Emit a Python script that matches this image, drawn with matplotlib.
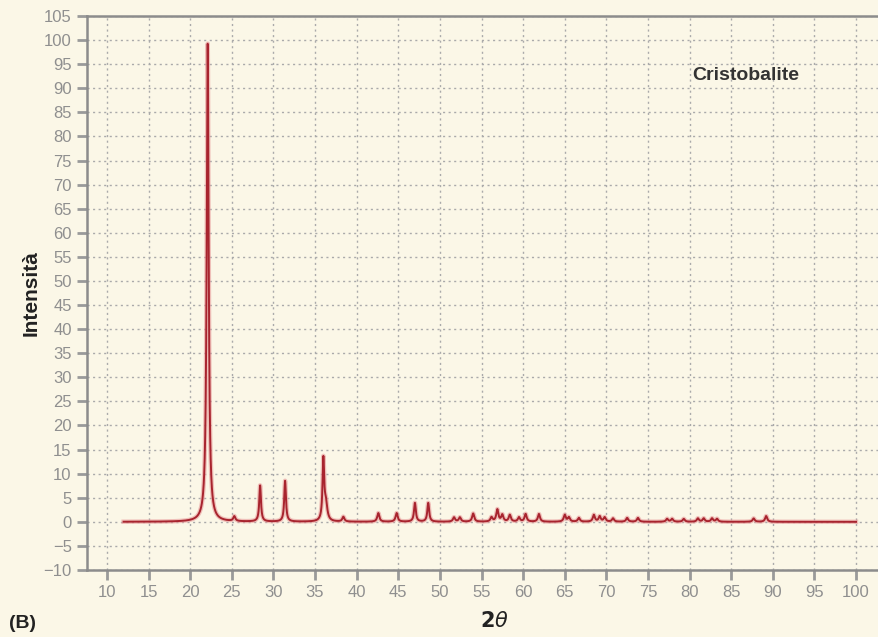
import numpy as np
import matplotlib
matplotlib.use("Agg")
import matplotlib.pyplot as plt

plt.rcParams['font.family'] = ['Liberation Sans', 'DejaVu Sans']

# peak list: position (2theta), height, half width
peak_pos = [22.1, 25.3, 28.4, 31.4, 36.0, 36.3, 38.4, 42.6, 44.8, 47.0, 48.6,
            51.7, 52.4, 54.0, 56.2, 56.9, 57.5, 58.4, 59.5, 60.3, 61.9,
            65.0, 65.5, 66.7, 68.5, 69.2, 69.8, 70.8, 72.5, 73.8,
            77.3, 77.9, 79.3, 81.0, 81.7, 82.7, 83.3, 87.7, 89.2]
peak_h = [99.5, 1.0, 7.5, 8.5, 12.6, 3.5, 1.0, 1.8, 1.8, 3.9, 3.9,
          0.9, 0.9, 1.7, 0.9, 2.5, 1.4, 1.4, 0.9, 1.6, 1.6,
          1.4, 0.9, 0.8, 1.4, 1.1, 0.9, 0.7, 0.8, 0.8,
          0.6, 0.6, 0.6, 0.7, 0.7, 0.7, 0.6, 0.7, 1.2]
peak_w = [0.14, 0.15, 0.12, 0.12, 0.12, 0.2, 0.15, 0.15, 0.15, 0.13, 0.13,
          0.15, 0.15, 0.15, 0.15, 0.15, 0.15, 0.15, 0.15, 0.15, 0.15,
          0.15, 0.15, 0.15, 0.15, 0.15, 0.15, 0.15, 0.15, 0.15,
          0.15, 0.15, 0.15, 0.15, 0.15, 0.15, 0.15, 0.15, 0.15]
x_start, x_end = 12, 100

xticks = list(range(10, 101, 5))
yticks = list(range(-10, 106, 5))

bg = '#fbf7e7'
tick_col = '#9a9a9a'

x = np.linspace(x_start, x_end, 6000)
y = np.zeros_like(x)
for p, h, w in zip(peak_pos, peak_h, peak_w):
    y += h * w**2 / ((x - p)**2 + w**2)

fig = plt.figure(figsize=(8.79, 6.37), dpi=100, facecolor=bg)
ax = fig.add_axes([87/879, 1 - 570/637, (879 - 87)/879, (570 - 16)/637])
ax.set_facecolor(bg)

ax.plot(x, y, color='#e89a9a', lw=3.2, alpha=0.6, solid_joinstyle='round')
ax.plot(x, y, color='#a8242e', lw=1.4)

ax.set_xlim(7.6, 102.76)
ax.set_ylim(-10, 105)
ax.set_xticks(xticks)
ax.set_yticks(yticks)
ax.grid(True, color='#aaaaaa', linestyle=(0, (1.5, 2.5)), lw=1.0)
ax.set_axisbelow(True)

for s in ['left', 'bottom', 'top']:
    ax.spines[s].set_color('#8c8c8c')
    ax.spines[s].set_linewidth(1.8)
ax.spines['right'].set_visible(False)

ax.tick_params(axis='both', colors=tick_col, labelsize=12, length=7, width=2,
               direction='out', pad=4)
for lab in ax.get_xticklabels() + ax.get_yticklabels():
    lab.set_color('#8f8f8f')

ax.set_ylabel('Intensità', fontsize=15, fontweight='bold', color='#222222', labelpad=2)
fig.text(494/879, 1 - 621/637, r'$\mathbf{2}\mathit{\theta}$', fontsize=15,
         ha='center', va='center', color='#222222')
fig.text(9/879, 1 - 623/637, '(B)', fontsize=14, fontweight='bold',
         ha='left', va='center', color='#222222')
ax.text(86.7, 92.7, 'Cristobalite', fontsize=14, fontweight='bold',
        ha='center', va='center', color='#333333')

fig.savefig('out.png', dpi=100, facecolor=bg)
